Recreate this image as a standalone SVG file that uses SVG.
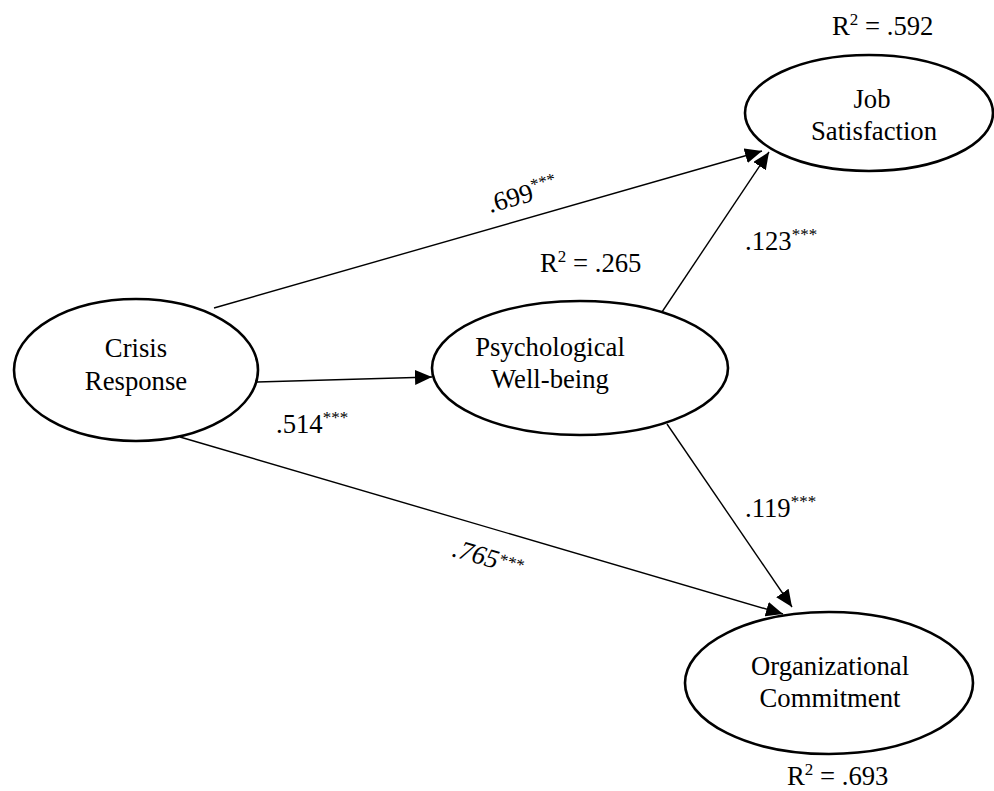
<svg xmlns="http://www.w3.org/2000/svg" width="994" height="791" viewBox="0 0 994 791">
<style>
text{font-family:"Liberation Serif","Times New Roman",serif;font-size:26.7px;fill:#000}
.n{text-anchor:middle}
ellipse{fill:#fff;stroke:#000;stroke-width:2.6}
.c line{stroke:#000;stroke-width:1.4;marker-end:url(#ah)}
.s{font-size:17px}
</style>
<defs>
<marker id="ah" markerUnits="userSpaceOnUse" markerWidth="18" markerHeight="16" refX="17" refY="7.5" orient="auto">
<path d="M0,0 L17,7.5 L0,15 z" fill="#000"/>
</marker>
</defs>
<rect width="994" height="791" fill="#fff"/>
<g class="c" id="connectors">
<line x1="214" y1="308" x2="762" y2="151"/>
<line x1="257" y1="382" x2="432" y2="377"/>
<line x1="180" y1="437" x2="783" y2="614"/>
<line x1="662" y1="312" x2="769" y2="152"/>
<line x1="667" y1="424" x2="792" y2="607"/>
</g>
<g id="crisis">
<ellipse cx="136" cy="370" rx="122" ry="71"/>
<text class="n" x="136" y="357">Crisis</text>
<text class="n" x="136" y="390">Response</text>
</g>
<g id="psych">
<ellipse cx="580" cy="368" rx="148" ry="67"/>
<text class="n" x="550" y="356">Psychological</text>
<text class="n" x="550" y="388">Well-being</text>
<text x="540" y="272">R<tspan class="s" dy="-10">2</tspan><tspan dy="10"> = .265</tspan></text>
</g>
<g id="job">
<ellipse cx="869" cy="113" rx="124" ry="58"/>
<text class="n" x="872" y="108">Job</text>
<text class="n" x="874" y="140">Satisfaction</text>
<text x="832" y="35">R<tspan class="s" dy="-10">2</tspan><tspan dy="10"> = .592</tspan></text>
</g>
<g id="org">
<ellipse cx="829" cy="683" rx="144" ry="71"/>
<text class="n" x="830" y="675">Organizational</text>
<text class="n" x="830" y="707">Commitment</text>
<text x="787" y="785">R<tspan class="s" dy="-10">2</tspan><tspan dy="10"> = .693</tspan></text>
</g>
<g id="labels">
<text transform="translate(490,213) rotate(-15.8)">.699<tspan class="s" dy="-10">***</tspan></text>
<text x="276" y="433">.514<tspan class="s" dy="-10">***</tspan></text>
<text x="745" y="250">.123<tspan class="s" dy="-10">***</tspan></text>
<text x="745" y="517">.119<tspan class="s" dy="-10">***</tspan></text>
<text font-style="italic" transform="translate(451,556) rotate(16)">.765<tspan class="s" dy="-5">***</tspan></text>
</g>
</svg>
